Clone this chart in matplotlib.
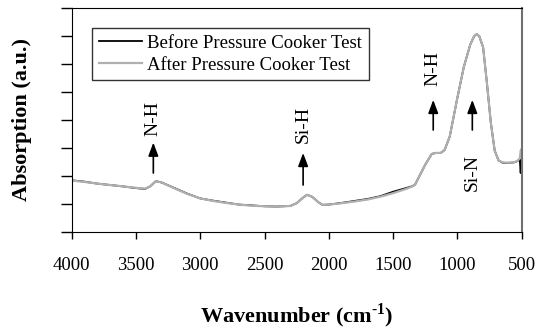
import numpy as np
import matplotlib.pyplot as plt

plt.rcParams['font.family'] = ['Liberation Serif', 'DejaVu Serif']
plt.rcParams['mathtext.fontset'] = 'custom'
plt.rcParams['mathtext.rm'] = 'Liberation Serif'
plt.rcParams['mathtext.bf'] = 'Liberation Serif:bold'

# datos (numero de onda en cm-1, absorcion en u.a.)
wn = [4000, 3900, 3800, 3700, 3600, 3500, 3430, 3390, 3345, 3300, 3200, 3100,
      3000, 2900, 2800, 2700, 2600, 2500, 2400, 2300, 2250, 2200, 2170, 2130,
      2080, 2050, 2000, 1900, 1800, 1700, 1600, 1500, 1400, 1350, 1330, 1300,
      1250, 1200, 1170, 1130, 1100, 1060, 1000, 950, 900, 870, 850, 830, 800,
      770, 740, 710, 680, 650, 620, 580, 550, 530, 515, 508, 504, 500]
antes = [1.84, 1.79, 1.72, 1.67, 1.62, 1.56, 1.53, 1.62, 1.81, 1.76, 1.56, 1.36,
         1.19, 1.11, 1.04, 0.97, 0.94, 0.91, 0.90, 0.92, 1.02, 1.22, 1.32, 1.25,
         1.05, 0.96, 0.97, 1.03, 1.10, 1.17, 1.27, 1.43, 1.56, 1.63, 1.68, 1.95,
         2.40, 2.78, 2.82, 2.82, 2.92, 3.40, 4.80, 5.90, 6.70, 7.00, 7.07, 7.00, 6.60,
         5.30, 3.90, 2.90, 2.55, 2.47, 2.46, 2.47, 2.49, 2.54, 2.58, 2.10, 2.55, 2.60]
despues = [1.83, 1.78, 1.72, 1.67, 1.62, 1.57, 1.54, 1.62, 1.81, 1.76, 1.55, 1.35,
           1.19, 1.10, 1.03, 0.97, 0.93, 0.91, 0.90, 0.92, 1.02, 1.22, 1.32, 1.25,
           1.05, 0.96, 0.97, 1.02, 1.08, 1.15, 1.25, 1.38, 1.53, 1.62, 1.68, 1.95,
           2.40, 2.78, 2.82, 2.82, 2.92, 3.40, 4.80, 5.90, 6.70, 7.00, 7.07, 7.00, 6.60,
           5.30, 3.90, 2.90, 2.55, 2.48, 2.47, 2.47, 2.50, 2.55, 2.62, 2.90, 2.95, 2.80]

# etiquetas de los picos: (texto, x, y flecha abajo, y flecha arriba, y texto)
picos = [('N-H', 3365, 2.10, 3.19, 4.05),
         ('Si-H', 2200, 1.67, 2.82, 3.84),
         ('N-H', 1188, 3.64, 4.72, 5.83),
         ('Si-N', 884, 3.64, 4.72, 2.12)]

fig = plt.figure(figsize=(5.37, 3.30), dpi=100)
ax = fig.add_axes([0.1335, 0.298, 0.838, 0.677])

ax.plot(wn, antes, color='black', lw=1.3, label='Before Pressure Cooker Test')
ax.plot(wn, despues, color='#b0b0b0', lw=1.6, label='After Pressure Cooker Test')

for texto, x, y0, y1, yt in picos:
    ax.annotate('', xy=(x, y1), xytext=(x, y0),
                arrowprops=dict(arrowstyle='-|>,head_length=0.8,head_width=0.3',
                                color='black', lw=1.2, shrinkA=0, shrinkB=0))
    ax.text(x, yt, texto, rotation=90, ha='center', va='center', fontsize=14)

ax.set_xlim(4000, 500)
ax.set_ylim(0, 8)
ax.set_xticks([4000, 3500, 3000, 2500, 2000, 1500, 1000, 500])
ax.set_yticks(np.arange(0, 9, 1))
ax.set_yticklabels([])
ax.tick_params(axis='x', direction='out', length=5, width=1, labelsize=13.5, pad=13)
ax.tick_params(axis='y', direction='out', length=8, width=1)
ax.spines['right'].set_color('#707070')
ax.spines['right'].set_linewidth(1.5)

ax.set_xlabel('Wavenumber (cm$^{\\mathbf{\u2010 1}}$)', fontsize=16, fontweight='bold', labelpad=20)
ax.set_ylabel('Absorption (a.u.)', fontsize=16, fontweight='bold', labelpad=17)

leg = ax.legend(loc='upper left', bbox_to_anchor=(0.045, 0.91), fontsize=13.5,
                frameon=True, fancybox=False, borderaxespad=0, handlelength=2.3,
                handletextpad=0.3, labelspacing=0.25, borderpad=0.35)
leg.get_frame().set_edgecolor('black')
leg.get_frame().set_linewidth(1.0)

plt.savefig('out.png', dpi=100)
